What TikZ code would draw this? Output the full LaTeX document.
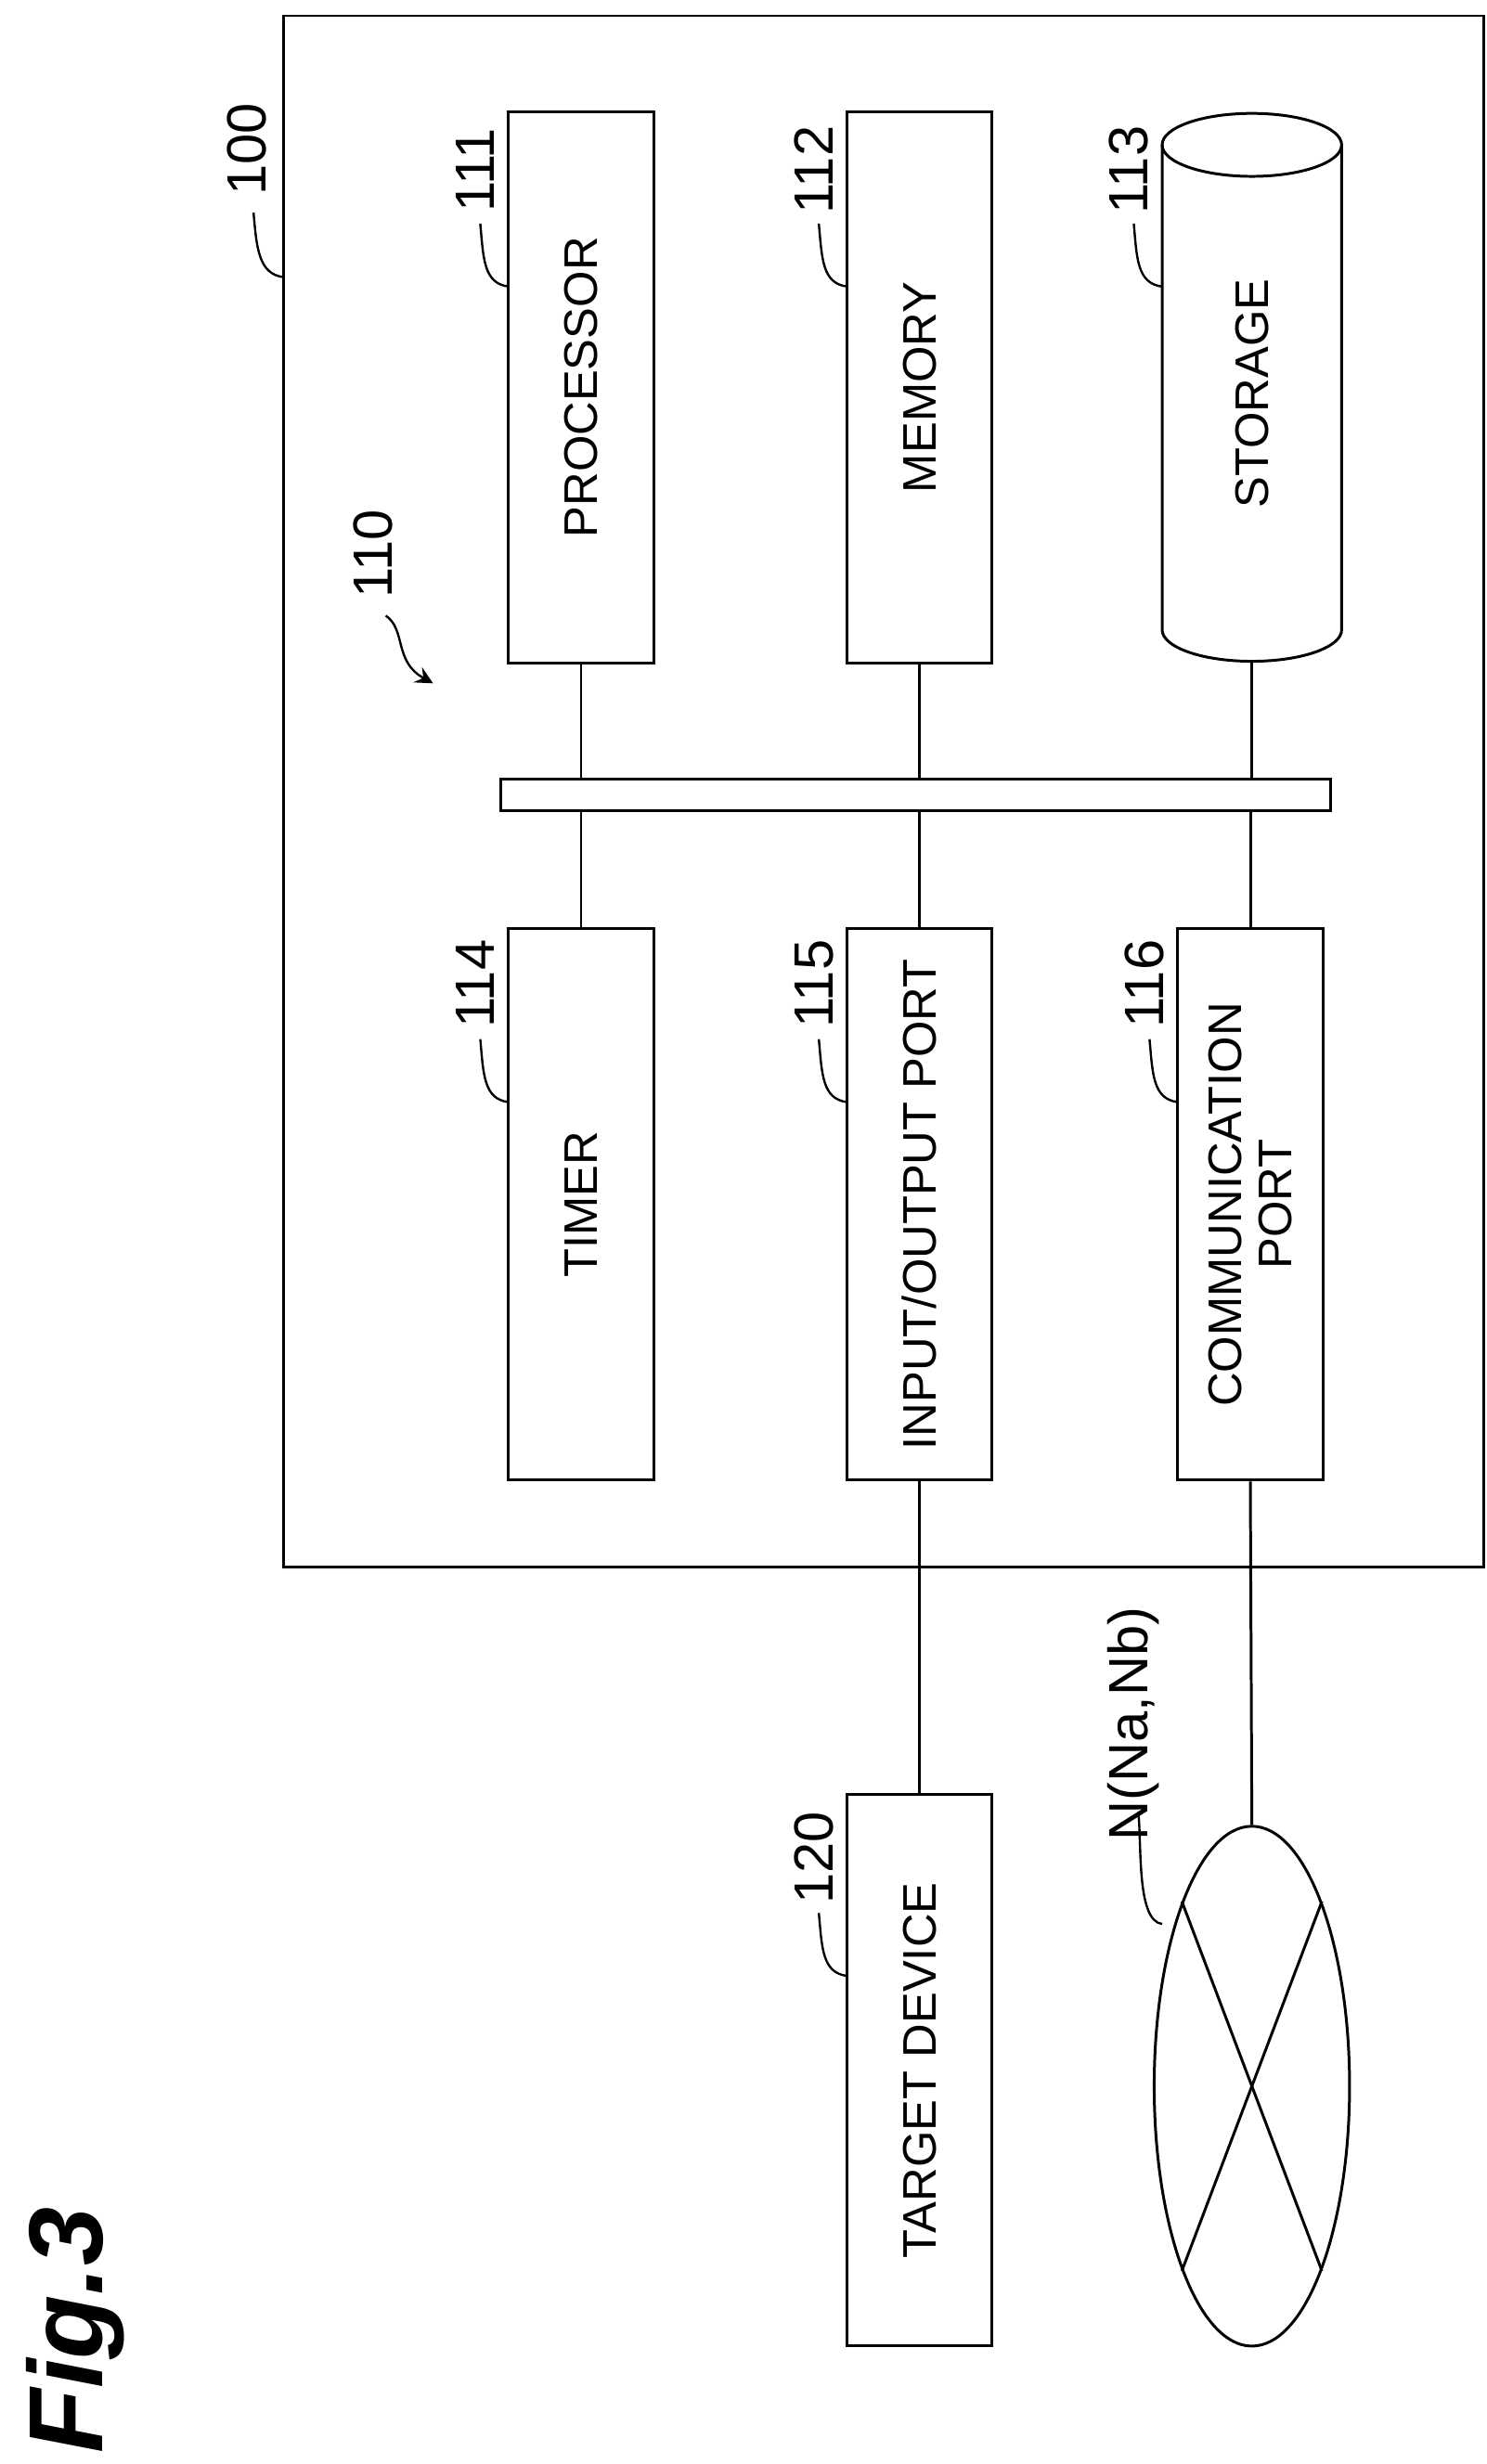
\documentclass[tikz,border=0pt]{standalone}
\usepackage{fontspec}
\setmainfont{Liberation Sans}
\usetikzlibrary{arrows}
\usetikzlibrary{shapes.geometric}

\begin{document}
\begin{tikzpicture}[x=0.01cm, y=-0.01cm, >=stealth, line width=0.5pt]
    \tikzset{
        box/.style={draw, minimum width=0.92cm, minimum height=3.5cm, inner sep=0pt, font=\fontsize{8.5}{10}\selectfont},
        reftext/.style={rotate=90, font=\fontsize{10}{12}\selectfont, inner sep=1pt}
    }
    \newcommand{\leader}[2]{\draw[thin] (#1) .. controls +(2,22) and +(-16,-2) .. (#2);}
    \useasboundingbox (0,0) rectangle (944,1565);

    \draw (180,10) rectangle (942,995);
    \node[reftext] (l100) at (157,95) {100};
    \leader{161,135}{180,176}

    % upper row
    \node[box] (proc) at (369,246) {\rotatebox{90}{PROCESSOR}};
    \node[box] (mem) at (584,246) {\rotatebox{90}{MEMORY}};
    \node[reftext] (l111) at (302,108) {111};
    \leader{305,142}{323,182}
    \node[reftext] (l112) at (517,108) {112};
    \leader{520,142}{538,182}

    % storage
    \draw (738,92) -- (738,400) arc[start angle=180, end angle=0, x radius=57, y radius=20] -- (852,92);
    \draw (795,92) ellipse [x radius=57, y radius=20];
    \node[rotate=90, font=\fontsize{8.5}{10}\selectfont] (stor) at (795,250) {STORAGE};
    \coordinate (storS) at (795,420);
    \node[reftext] (l113) at (717,108) {113};
    \leader{720,142}{738,182}

    % label 110
    \node[reftext] (l110) at (237,352) {110};
    \draw[thin, ->] (245,391) .. controls (258,400) and (250,420) .. (275,434);

    % bus
    \node[draw, minimum width=5.27cm, minimum height=0.2cm, inner sep=0pt] (bus) at (581.5,505) {};

    % lower row
    \node[box] (timer) at (369,765) {\rotatebox{90}{TIMER}};
    \node[box] (io) at (584,765) {\rotatebox{90}{INPUT/OUTPUT PORT}};
    \node[box] (comm) at (794,765) {\rotatebox{90}{\shortstack{COMMUNICATION\\PORT}}};
    \node[reftext] (l114) at (302,625) {114};
    \leader{305,660}{323,700}
    \node[reftext] (l115) at (517,625) {115};
    \leader{520,660}{538,700}
    \node[reftext] (l116) at (727,625) {116};
    \leader{730,660}{748,700}

    \draw (proc.south) -- (proc.south |- bus.north);
    \draw (mem.south) -- (mem.south |- bus.north);
    \draw (storS) -- (storS |- bus.north);
    \draw (timer.north) -- (timer.north |- bus.south);
    \draw (io.north) -- (io.north |- bus.south);
    \draw (comm.north) -- (comm.north |- bus.south);

    % outside devices
    \node[box] (target) at (584,1315) {\rotatebox{90}{TARGET DEVICE}};
    \node[reftext] (l120) at (517,1180) {120};
    \leader{520,1215}{538,1255}
    \draw (io.south) -- (target.north);

    \node[draw, ellipse, minimum width=1.24cm, minimum height=3.3cm, inner sep=0pt] (net) at (795,1325) {};
    \draw (net.north west) -- (net.south east);
    \draw (net.north east) -- (net.south west);
    \draw (comm.south) -- (net.north);
    \node[reftext] (lnet) at (720,1095) {N(Na,Nb)};
    \leader{723,1152}{738,1222}

    \node[rotate=90, font=\fontsize{19}{23}\selectfont\bfseries\itshape] (fig) at (48,1480) {Fig.3};
\end{tikzpicture}
\end{document}
